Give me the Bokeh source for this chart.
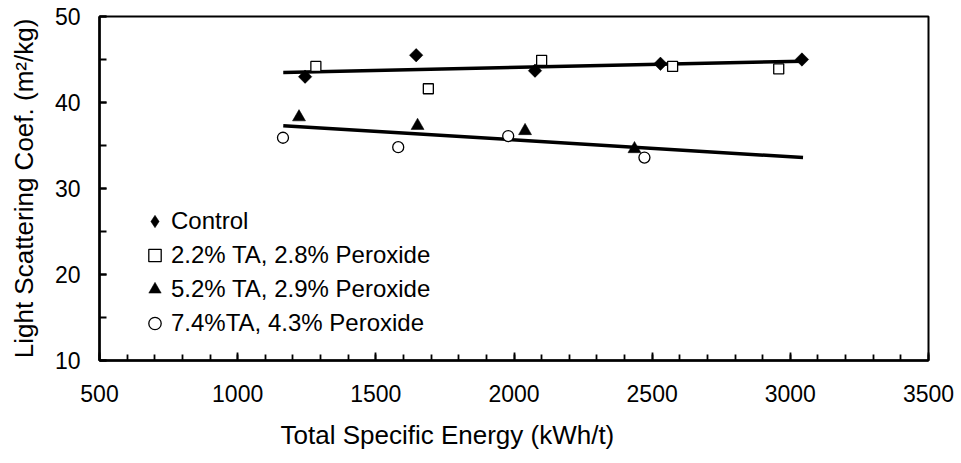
import numpy as np
from bokeh.plotting import figure
from bokeh.models import Range1d, SingleIntervalTicker, Legend, LegendItem, Title
from bokeh.embed import file_html
from bokeh.resources import INLINE

# ---- data ----
control_x = [1244, 1646, 2076, 2530, 3042]
control_y = [43.0, 45.5, 43.7, 44.5, 45.0]
ta22_x = [1283, 1690, 2100, 2574, 2958]
ta22_y = [44.2, 41.6, 44.9, 44.2, 43.9]
ta52_x = [1222, 1651, 2040, 2436]
ta52_y = [38.3, 37.3, 36.7, 34.6]
ta74_x = [1164, 1581, 1979, 2472]
ta74_y = [35.9, 34.8, 36.1, 33.6]
trend_x = [1165, 3046]
trend_upper = [43.5, 44.8]
trend_lower = [37.3, 33.6]
labels = ["Control", "2.2% TA, 2.8% Peroxide", "5.2% TA, 2.9% Peroxide", "7.4%TA, 4.3% Peroxide"]
x_title = "Total Specific Energy (kWh/t)"
y_title = "Light Scattering Coef. (m²/kg)"

FONT = "Liberation Sans"

p = figure(width=961, height=463, output_backend="svg", toolbar_location=None,
           x_range=Range1d(500, 3500), y_range=Range1d(10, 50),
           min_border_left=99, min_border_right=33, min_border_top=16, min_border_bottom=103)
p.background_fill_color = "white"
p.border_fill_color = "white"
p.outline_line_color = "black"
p.outline_line_width = 2
p.xgrid.visible = False
p.ygrid.visible = False

p.xaxis.ticker = SingleIntervalTicker(interval=500, num_minor_ticks=5)
p.yaxis.ticker = SingleIntervalTicker(interval=10, num_minor_ticks=2)

for ax in (p.xaxis, p.yaxis):
    ax.axis_line_color = "black"
    ax.axis_line_width = 2.5
    ax.major_tick_line_color = "black"
    ax.minor_tick_line_color = "black"
    ax.major_tick_line_width = 1.8
    ax.minor_tick_line_width = 1.8
    ax.major_tick_out = 0
    ax.minor_tick_out = 0
    ax.major_label_text_font = FONT
    ax.major_label_text_font_size = "23px"
    ax.major_label_text_color = "black"
    ax.axis_label_text_font = FONT
    ax.axis_label_text_font_size = "26px"
    ax.axis_label_text_font_style = "normal"
    ax.axis_label_text_color = "black"

p.xaxis.major_tick_in = 8
p.xaxis.minor_tick_in = 6
p.yaxis.major_tick_in = 7
p.yaxis.minor_tick_in = 7
p.xaxis.major_label_standoff = 24
p.yaxis.major_label_standoff = 19
p.yaxis.axis_label = y_title
p.yaxis.axis_label_standoff = 13

# x-axis title, placed left of centre as in the reference
xt = Title(text=x_title, align="left", offset=181,
           text_font=FONT, text_font_size="26px", text_font_style="normal",
           text_color="black", standoff=27)
p.add_layout(xt, "below")

# trend lines
p.line(trend_x, trend_upper, line_color="black", line_width=3.5)
p.line(trend_x, trend_lower, line_color="black", line_width=3.5)

r1 = p.scatter(control_x, control_y, marker="square", angle=np.pi / 4, size=9.5,
               fill_color="black", line_color="black", line_width=0.5)
# diamond glyph on the same points (hidden inside the rotated squares) so the
# legend shows a diamond (legend ignores marker angle)
r1_leg = p.scatter(control_x, control_y, marker="diamond", size=12, fill_color="black",
                   line_color="black", line_width=0.5)
r2 = p.scatter(ta22_x, ta22_y, marker="square", size=10, fill_color="white",
               line_color="black", line_width=1.3)
r3 = p.scatter(ta52_x, ta52_y, marker="triangle", size=13, fill_color="black",
               line_color="black", line_width=0.5)
r4 = p.scatter(ta74_x, ta74_y, marker="circle", size=11, fill_color="white",
               line_color="black", line_width=1.3)

legend = Legend(items=[LegendItem(label=labels[0], renderers=[r1_leg]),
                       LegendItem(label=labels[1], renderers=[r2]),
                       LegendItem(label=labels[2], renderers=[r3]),
                       LegendItem(label=labels[3], renderers=[r4])],
                location=(40, 20), padding=0, margin=0, spacing=0,
                glyph_width=31, glyph_height=34, label_height=34, label_standoff=1,
                label_text_font=FONT, label_text_font_size="24px", label_text_color="black",
                border_line_color=None, background_fill_alpha=0)
p.add_layout(legend, "center")

open("out.html", "w").write(file_html(p, INLINE))
